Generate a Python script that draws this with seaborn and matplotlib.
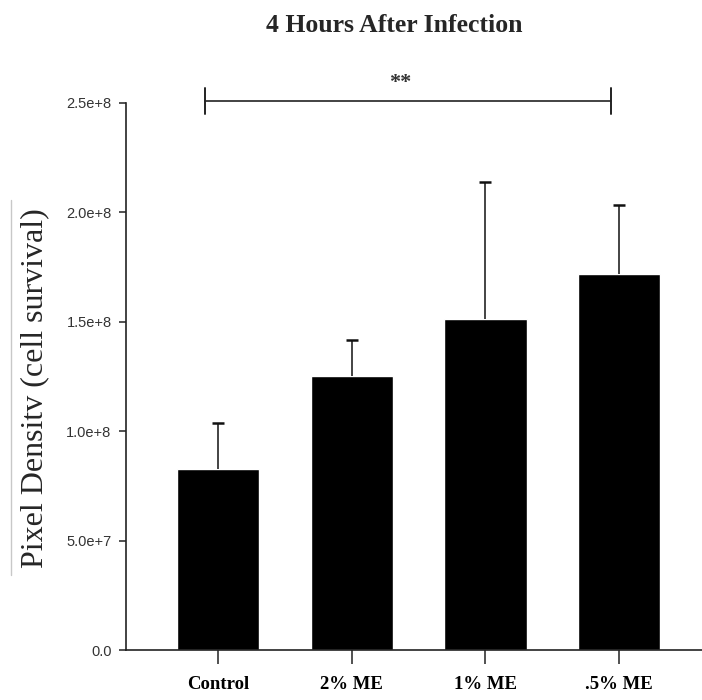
import numpy as np
import pandas as pd
import matplotlib.pyplot as plt
from matplotlib.lines import Line2D
import seaborn as sns

# values
groups = ["Control", "2% ME", "1% ME", ".5% ME"]
means = [8.26e7, 1.254e8, 1.511e8, 1.718e8]
errors = [2.13e7, 1.63e7, 6.29e7, 3.16e7]
ytick_values = [0, 5e7, 1e8, 1.5e8, 2e8, 2.5e8]
ytick_labels = ["0.0", "5.0e+7", "1.0e+8", "1.5e+8", "2.0e+8", "2.5e+8"]
sig_label = "**"

data = pd.DataFrame({"group": groups, "mean": means, "err": errors})
data["top"] = data["mean"] + data["err"]

sns.set_style("ticks")
plt.rcParams["font.family"] = ["Liberation Serif", "DejaVu Serif"]

fig = plt.figure(figsize=(7.02, 7.00), dpi=100)
ax = fig.add_axes([125.5 / 702, 50 / 700, 1 - 125.5 / 702, 547 / 700])

sns.barplot(data=data, x="group", y="mean", color="black", saturation=1,
            width=0.615, errorbar=None, ax=ax)

# upper error bars only (stem + cap)
xpos = np.arange(len(groups))
cap = 0.045
ax.vlines(xpos, data["mean"], data["top"], color="#111111", lw=1.1, zorder=3)
ax.hlines(data["top"], xpos - cap, xpos + cap, color="#111111", lw=1.8,
          zorder=3)

ax.set_xlim(-0.692, 3.62)
ax.set_ylim(0, 2.5e8)
ax.set_yticks(ytick_values)
ax.set_yticklabels(ytick_labels, family="Liberation Sans", fontsize=10.5,
                   color="#333333")
ax.set_xticks(xpos)
ax.set_xticklabels(groups, fontsize=13.5, fontweight="bold")
ax.tick_params(axis="y", length=5, width=1.1, pad=5, colors="#222222",
               labelcolor="#333333")
ax.tick_params(axis="x", length=10, width=1.1, pad=9, colors="#222222",
               labelcolor="black")
ax.set_xlabel("")
ax.set_ylabel("")

for side in ["top", "right"]:
    ax.spines[side].set_visible(False)
for side in ["left", "bottom"]:
    ax.spines[side].set_linewidth(1.2)
    ax.spines[side].set_color("#222222")

# significance bracket
bx0, bx1, by, bh = -0.097, 2.94, 2.509e8, 5.9e6
ax.plot([bx0, bx1], [by, by], color="#222222", lw=1.2, clip_on=False)
ax.plot([bx0, bx0], [by - bh, by + bh], color="#222222", lw=1.4, clip_on=False)
ax.plot([bx1, bx1], [by - bh, by + bh], color="#222222", lw=1.4, clip_on=False)
ax.text(1.36, 2.59e8, sig_label, ha="center", va="center", fontsize=16,
        fontweight="bold", color="#333333", clip_on=False)

fig.text(394 / 702, 1 - 25 / 700, "4 Hours After Infection", ha="center",
         va="center", fontsize=18.5, fontweight="bold")
fig.text(35 / 702, 1 - 388 / 700, "Pixel Densitv (cell survival)",
         rotation=90, ha="center", va="center", fontsize=23)
# faint edge of the pasted label box
fig.add_artist(Line2D([11 / 702, 11 / 702], [1 - 200 / 700, 1 - 575 / 700],
                      color="#c8c8c8", lw=1))

fig.savefig("out.png", dpi=100)
